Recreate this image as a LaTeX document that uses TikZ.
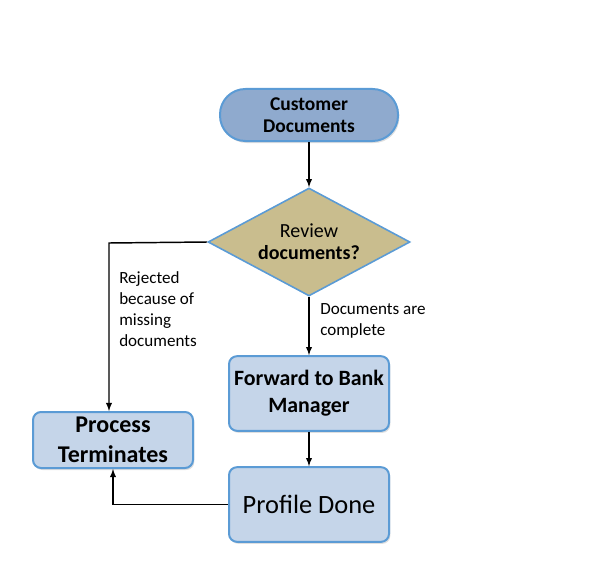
\documentclass[tikz,border=0pt]{standalone}
\usepackage{fontspec}
\setmainfont{Carlito}
\usetikzlibrary{shapes.geometric,shadows}

\definecolor{edgeblue}{HTML}{5B9BD5}
\definecolor{darkfill}{HTML}{8FAACE}
\definecolor{lightfill}{HTML}{C5D5E9}
\definecolor{tanfill}{HTML}{C9BD8E}

\begin{document}
\begin{tikzpicture}[x=0.75pt,y=0.75pt]
            \tikzstyle{box}=[draw=edgeblue, line width=1.5pt, rounded corners=6pt, align=center, inner sep=0pt,
                drop shadow={opacity=0.25, shadow xshift=1pt, shadow yshift=-1.5pt}]
            \tikzstyle{link}=[black, line width=1.1pt, -latex]
            \tikzstyle{note}=[anchor=north west, align=left, inner sep=0pt, font=\fontsize{12.8}{15.8}\selectfont]
            \useasboundingbox (0,0) rectangle (602,-574);
            \node [box, fill=darkfill, rounded corners=19pt, minimum width=133.5pt, minimum height=39pt,
                font=\bfseries\fontsize{14.6}{16.5}\selectfont] (cust) at (309,-115) {Customer\\Documents};
            \node [diamond, shape aspect=2, draw=edgeblue, line width=1.2pt, fill=tanfill, inner sep=0pt,
                minimum width=151.5pt, minimum height=81pt, align=center,
                font=\fontsize{15}{16.5}\selectfont] (review) at (309,-242) {Review\\\textbf{documents?}};
            \node [box, fill=lightfill, minimum width=120pt, minimum height=56pt,
                font=\bfseries\fontsize{16.4}{20.2}\selectfont] (fwd) at (309,-393.5) {Forward to Bank\\Manager};
            \node [box, fill=lightfill, minimum width=120pt, minimum height=42pt,
                font=\bfseries\fontsize{18}{22.5}\selectfont] (proc) at (113,-440) {Process\\Terminates};
            \node [box, fill=lightfill, minimum width=120pt, minimum height=56pt,
                font=\fontsize{19.8}{22}\selectfont] (prof) at (309,-504.5) {Profile Done};
            \coordinate (rejturn) at (109,-243);
            \draw [link] (cust) -- (review);
            \draw [link] (review) -- (fwd);
            \draw [link] (fwd) -- (prof);
            \draw [link] (review.west) -- (rejturn) -- (rejturn |- proc.north);
            \draw [link] (prof.west) -| (proc.south);
            \node [note] (rejnote) at (119,-271) {Rejected\\because of\\missing\\documents};
            \node [note] (oknote) at (320,-303) {Documents are\\complete};
        \end{tikzpicture}
\end{document}
